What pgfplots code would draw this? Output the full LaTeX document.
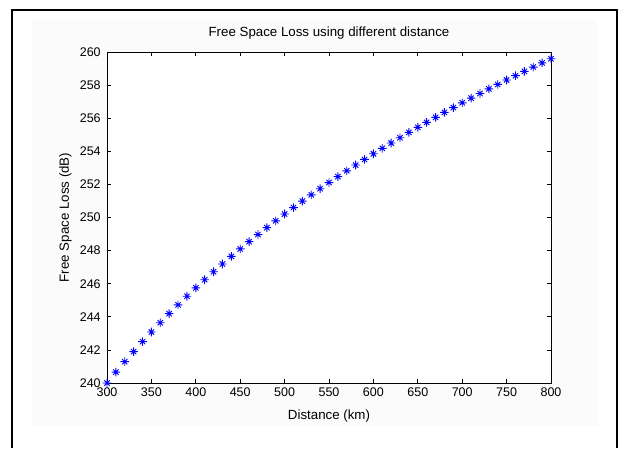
\documentclass[border=0pt]{standalone}
\usepackage{fontspec}
\setmainfont{Liberation Sans}
\usepackage{pgfplots}
\pgfplotsset{compat=1.18}
\definecolor{figbg}{RGB}{251,251,251}
\pgfdeclareplotmark{mstar}{%
  \pgfpathmoveto{\pgfqpoint{-\pgfplotmarksize}{0pt}}%
  \pgfpathlineto{\pgfqpoint{\pgfplotmarksize}{0pt}}%
  \pgfpathmoveto{\pgfqpoint{0pt}{-\pgfplotmarksize}}%
  \pgfpathlineto{\pgfqpoint{0pt}{\pgfplotmarksize}}%
  \pgfpathmoveto{\pgfqpoint{-0.62\pgfplotmarksize}{-0.62\pgfplotmarksize}}%
  \pgfpathlineto{\pgfqpoint{0.62\pgfplotmarksize}{0.62\pgfplotmarksize}}%
  \pgfpathmoveto{\pgfqpoint{-0.62\pgfplotmarksize}{0.62\pgfplotmarksize}}%
  \pgfpathlineto{\pgfqpoint{0.62\pgfplotmarksize}{-0.62\pgfplotmarksize}}%
  \pgfusepathqstroke}
\begin{document}
\begin{tikzpicture}[x=1pt,y=1pt]
\useasboundingbox (0,0) rectangle (620,448);
\fill[figbg] (32,22) rectangle (598,428);
\draw[line width=2pt] (12,0) -- (12,438) -- (617,438) -- (617,0);
\begin{axis}[
  at={(107pt,65pt)}, anchor=south west,
  width=444pt, height=331pt, scale only axis,
  xmin=300, xmax=800, ymin=240, ymax=260,
  xtick={300,350,...,800}, ytick={240,242,...,260},
  tick align=inside, major tick length=4pt,
  axis line style={line width=0.9pt, black},
  tick style={line width=0.8pt, black},
  /pgf/number format/assume math mode=true,
  ticklabel style={font=\fontsize{12.5}{14}\selectfont},
  yticklabel style={xshift=-2.8pt},
  xticklabel style={yshift=-1.5pt},
  title={Free Space Loss using different distance},
  title style={font=\fontsize{13.3}{16}\selectfont, at={(axis description cs:0.5,1.0272)}, anchor=base},
  xlabel={Distance (km)},
  xlabel style={font=\fontsize{13.3}{16}\selectfont, at={(axis description cs:0.5,-0.1088)}, anchor=base},
  ylabel={Free Space Loss (dB)},
  ylabel style={font=\fontsize{13.3}{16}\selectfont, at={(axis description cs:-0.0856,0.5)}, anchor=base, rotate=0},
  axis background/.style={fill=white},
]
\addplot[only marks, mark=mstar, mark size=4.3pt, color=blue, line width=0.9pt] coordinates {
(300,240.00) (310,240.66) (320,241.29) (330,241.90) (340,242.50)
(350,243.08) (360,243.64) (370,244.19) (380,244.72) (390,245.24)
(400,245.75) (410,246.24) (420,246.72) (430,247.19) (440,247.65)
(450,248.10) (460,248.54) (470,248.97) (480,249.39) (490,249.80)
(500,250.21) (510,250.60) (520,250.99) (530,251.37) (540,251.74)
(550,252.11) (560,252.47) (570,252.82) (580,253.17) (590,253.51)
(600,253.85) (610,254.18) (620,254.50) (630,254.82) (640,255.14)
(650,255.45) (660,255.75) (670,256.05) (680,256.35) (690,256.64)
(700,256.93) (710,257.21) (720,257.49) (730,257.77) (740,258.04)
(750,258.31) (760,258.57) (770,258.83) (780,259.09) (790,259.34)
(800,259.59)
};
\end{axis}
\end{tikzpicture}
\end{document}
